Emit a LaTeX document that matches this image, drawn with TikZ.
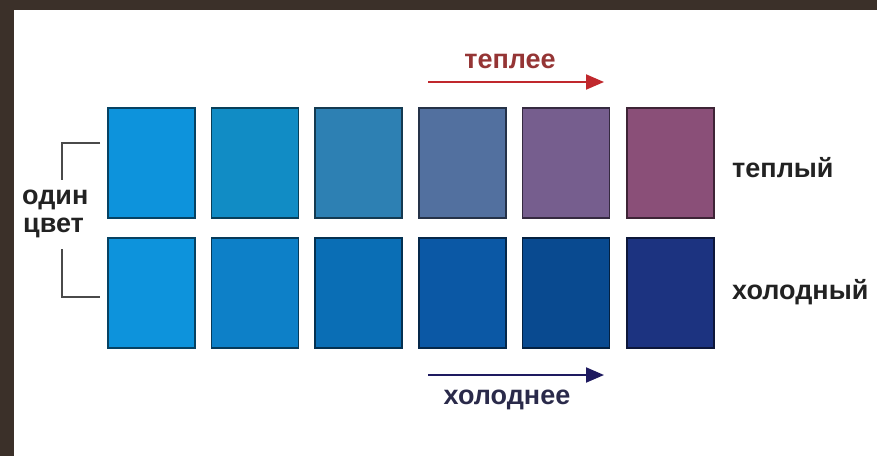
\documentclass[tikz,border=0pt]{standalone}
\usepackage{fontspec}
\setmainfont{Liberation Sans}
\usetikzlibrary{arrows.meta}
\definecolor{bgbrown}{HTML}{3B3029}
\definecolor{wA}{HTML}{0D93DC}
\definecolor{wB}{HTML}{118CC5}
\definecolor{wC}{HTML}{2D80B3}
\definecolor{wD}{HTML}{52709F}
\definecolor{wE}{HTML}{765E8E}
\definecolor{wF}{HTML}{8A4F78}
\definecolor{cA}{HTML}{0D93DC}
\definecolor{cB}{HTML}{0D80C8}
\definecolor{cC}{HTML}{0A6EB5}
\definecolor{cD}{HTML}{0B58A5}
\definecolor{cE}{HTML}{094A90}
\definecolor{cF}{HTML}{1C3380}
\definecolor{warmarrow}{HTML}{C0282D}
\definecolor{warmtext}{HTML}{953535}
\definecolor{coldarrow}{HTML}{1E1A60}
\definecolor{coldtext}{HTML}{2A2A4A}
\definecolor{labeltext}{HTML}{222222}
\definecolor{bracketc}{HTML}{4A4A4A}
\tikzset{
  swatch/.style={rectangle, minimum width=87pt, minimum height=110pt, inner sep=0pt,
    fill=#1, draw=#1!45!black, line width=1.6pt},
  lbl/.style={inner sep=0pt, font=\bfseries\fontsize{27}{29}\selectfont, text=labeltext},
  bracketline/.style={draw=bracketc, line width=2pt},
}
\begin{document}
\begin{tikzpicture}[x=1pt,y=-1pt]
\fill[bgbrown] (0,0) rectangle (877,456);
\fill[white] (14,10) rectangle (877,456);
\useasboundingbox (0,0) rectangle (877,456);
% warm row
\node[swatch=wA] (w1) at (151.5,163) {};
\node[swatch=wB] (w2) at (255,163) {};
\node[swatch=wC] (w3) at (358.5,163) {};
\node[swatch=wD] (w4) at (462.5,163) {};
\node[swatch=wE] (w5) at (566,163) {};
\node[swatch=wF] (w6) at (670.5,163) {};
% cold row
\node[swatch=cA] (c1) at (151.5,293) {};
\node[swatch=cB] (c2) at (255,293) {};
\node[swatch=cC] (c3) at (358.5,293) {};
\node[swatch=cD] (c4) at (462.5,293) {};
\node[swatch=cE] (c5) at (566,293) {};
\node[swatch=cF] (c6) at (670.5,293) {};
% labels
\node[lbl, anchor=west] (warm) at (732,168) {теплый};
\node[lbl, anchor=west] (cold) at (732,292) {холодный};
\node[lbl, anchor=west] (one) at (22,200) {один};
\node[lbl, anchor=west] (col) at (23,228) {цвет};
\node[lbl, text=warmtext] (warmer) at (510,61) {теплее};
\node[lbl, text=coldtext] (colder) at (507,400) {холоднее};
% arrows
\coordinate (wa1) at (428,82);
\coordinate (wa2) at (604,82);
\coordinate (ca1) at (428,375);
\coordinate (ca2) at (604,375);
\draw[warmarrow, line width=2pt, -{Triangle[length=18pt,width=15pt]}] (wa1) -- (wa2);
\draw[coldarrow, line width=2pt, -{Triangle[length=18pt,width=15pt]}] (ca1) -- (ca2);
% brackets
\coordinate (b1) at (100,143);
\coordinate (b2) at (62,143);
\coordinate (b3) at (62,180);
\coordinate (b4) at (62,249);
\coordinate (b5) at (62,297);
\coordinate (b6) at (100,297);
\draw[bracketline] (b1) -- (b2) -- (b3);
\draw[bracketline] (b4) -- (b5) -- (b6);
\end{tikzpicture}
\end{document}
